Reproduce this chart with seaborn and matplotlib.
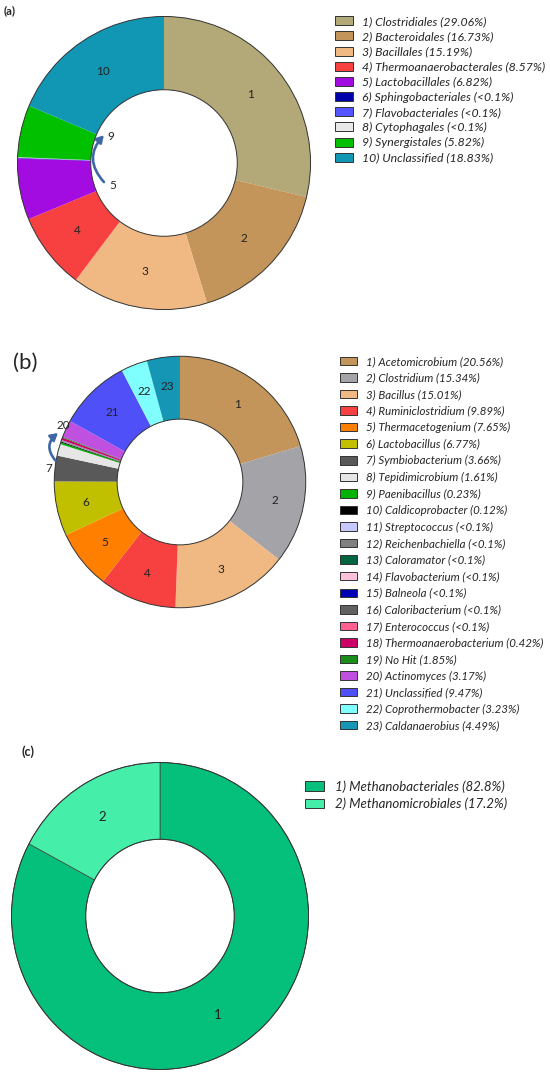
import matplotlib
matplotlib.use("Agg")
import matplotlib.pyplot as plt
import seaborn as sns

sns.set_theme(style="white")
plt.rcParams['font.family'] = ['Lato', 'DejaVu Sans']

# (a) order level
a_names = ["Clostridiales", "Bacteroidales", "Bacillales", "Thermoanaerobacterales",
           "Lactobacillales", "Sphingobacteriales", "Flavobacteriales", "Cytophagales",
           "Synergistales", "Unclassified"]
a_pct = ["29.06%", "16.73%", "15.19%", "8.57%", "6.82%", "<0.1%", "<0.1%", "<0.1%",
         "5.82%", "18.83%"]
a_vals = [29.06, 16.73, 15.19, 8.57, 6.82, 0.05, 0.05, 0.05, 5.82, 18.83]
a_colors = ["#b3a878", "#c4955a", "#f0b883", "#f74040", "#a30ce0", "#0000a8",
            "#5555ff", "#e8e8e8", "#00c000", "#1196b4"]
a_shown = [1, 2, 3, 4, 10]

b_names = ["Acetomicrobium", "Clostridium", "Bacillus", "Ruminiclostridium",
           "Thermacetogenium", "Lactobacillus", "Symbiobacterium", "Tepidimicrobium",
           "Paenibacillus", "Caldicoprobacter", "Streptococcus", "Reichenbachiella",
           "Caloramator", "Flavobacterium", "Balneola", "Caloribacterium",
           "Enterococcus", "Thermoanaerobacterium", "No Hit", "Actinomyces",
           "Unclassified", "Coprothermobacter", "Caldanaerobius"]
b_pct = ["20.56%", "15.34%", "15.01%", "9.89%", "7.65%", "6.77%", "3.66%", "1.61%",
         "0.23%", "0.12%", "<0.1%", "<0.1%", "<0.1%", "<0.1%", "<0.1%", "<0.1%",
         "<0.1%", "0.42%", "1.85%", "3.17%", "9.47%", "3.23%", "4.49%"]
b_vals = [20.4, 15.2, 15.0, 9.9, 7.6, 7.0, 3.3, 1.5, 0.23, 0.12,
          0.03, 0.03, 0.03, 0.03, 0.03, 0.03, 0.03, 0.3, 0.12, 2.2, 9.3, 3.4, 4.25]
b_colors = ["#c4955a", "#a3a3a8", "#f0b883", "#f74040", "#ff7f00", "#c0c000",
            "#595959", "#e6e6e6", "#00b300", "#000000", "#c8c8ff", "#808080",
            "#006640", "#ffc0dc", "#0000b4", "#606060", "#ff6090", "#cc0066",
            "#1a8c1a", "#c050e0", "#5050f8", "#80ffff", "#1496b4"]
b_shown = [1, 2, 3, 4, 5, 6, 21, 22, 23]

# (c) methanogens
c_names = ["Methanobacteriales", "Methanomicrobiales"]
c_pct = ["82.8%", "17.2%"]
c_vals = [82.8, 17.2]
c_colors = ["#05c07a", "#45efaa"]
c_shown = [1, 2]

W, H = 550, 1078
fig = plt.figure(figsize=(W / 100, H / 100), dpi=100)


def px_axes(cx, cy, rx, ry):
    return fig.add_axes([(cx - rx) / W, (H - cy - ry) / H, 2 * rx / W, 2 * ry / H])


def donut(ax, vals, colors, shown, ldist=0.75, fs=8.5, edge=None):
    pal = sns.color_palette(colors)
    labels = [str(i + 1) if (i + 1) in shown else "" for i in range(len(vals))]
    wp = dict(width=0.5, linewidth=0.5 if edge else 0, edgecolor=edge or "none")
    ax.pie(vals, colors=pal, labels=labels, labeldistance=ldist, startangle=90,
           counterclock=False, wedgeprops=wp,
           textprops=dict(fontsize=fs, color="#222222", ha="center", va="center"))
    # outline rings
    ax.pie([1], colors=["none"], startangle=90,
           wedgeprops=dict(width=0.5, facecolor="none", edgecolor="#333333", linewidth=0.7))
    ax.set_xlim(-1.01, 1.01)
    ax.set_ylim(-1.01, 1.01)
    ax.set_aspect("auto")
    ax.axis("off")


def legend(names, pct, colors, x, y, fs, spacing):
    handles = [plt.Rectangle((0, 0), 1, 1, facecolor=c, edgecolor="#333333", linewidth=0.7)
               for c in colors]
    labs = [f"{i + 1}) {n} ({p})" for i, (n, p) in enumerate(zip(names, pct))]
    fig.legend(handles, labs, loc="upper left", bbox_to_anchor=(x / W, 1 - y / H),
               frameon=False, borderpad=0, borderaxespad=0, handlelength=1.45,
               handleheight=0.75, handletextpad=0.8, labelspacing=spacing,
               prop=dict(family=["Lato", "DejaVu Sans"], style="italic", size=fs))


arrow = dict(arrowstyle="-|>,head_length=0.35,head_width=0.2", color="#3f67a8",
             lw=1.9, connectionstyle="arc3,rad=-0.45", shrinkA=0, shrinkB=0)

# panel (a)
ax_a = px_axes(164, 163, 148, 148)
donut(ax_a, a_vals, a_colors, a_shown)
ax_a.text(-0.36, 0.18, "9", fontsize=8.5, ha="center", va="center")
ax_a.text(-0.35, -0.155, "5", fontsize=8.5, ha="center", va="center")
ax_a.annotate("", xy=(-0.41, 0.19), xytext=(-0.41, -0.13), arrowprops=arrow)
fig.text(4 / W, 1 - 11 / H, "(a)", fontsize=8, fontweight="bold", va="center")
legend(a_names, a_pct, a_colors, 335, 16, 8.8, 0.34)

# panel (b)
ax_b = px_axes(180, 482, 127, 127)
donut(ax_b, b_vals, b_colors, b_shown, ldist=0.77)
ax_b.text(-0.93, 0.45, "20", fontsize=8.5, ha="center", va="center")
ax_b.text(-1.04, 0.11, "7", fontsize=8.5, ha="center", va="center")
ax_b.annotate("", xy=(-0.97, 0.39), xytext=(-0.99, 0.17),
              arrowprops=dict(arrow, connectionstyle="arc3,rad=-0.5"))
fig.text(13 / W, 1 - 363 / H, "(b)", fontsize=16, va="center")
legend(b_names, b_pct, b_colors, 340, 356, 8.3, 0.48)

# panel (c)
ax_c = px_axes(160, 916, 150, 155)
donut(ax_c, c_vals, c_colors, c_shown, fs=9.5, edge="#444444")
fig.text(22 / W, 1 - 752 / H, "(c)", fontsize=9, fontweight="bold", va="center")
legend(c_names, c_pct, c_colors, 305, 780, 9.5, 0.38)

fig.savefig("out.png", dpi=100)
